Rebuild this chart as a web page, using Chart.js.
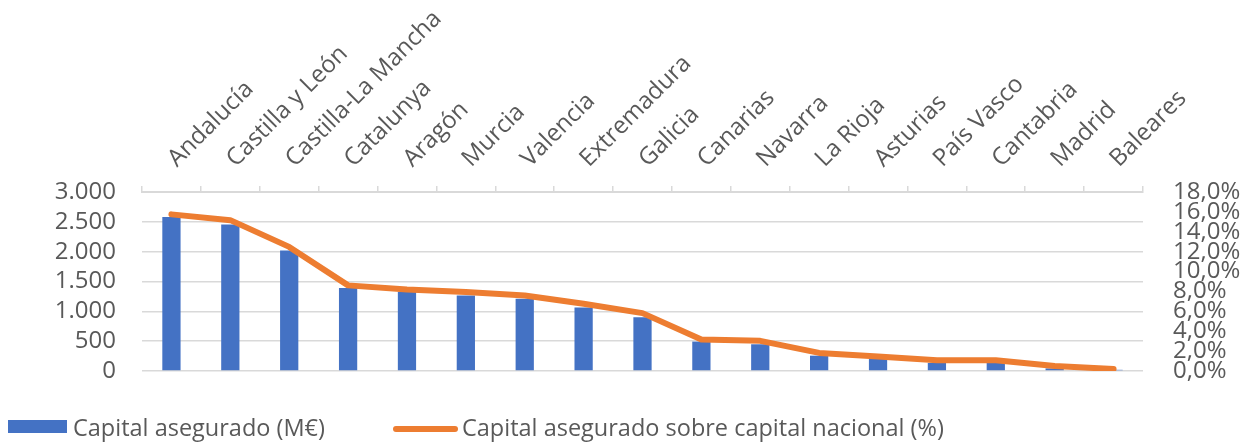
<!DOCTYPE html>
<html>
<head>
<meta charset="utf-8">
<script src="https://cdn.jsdelivr.net/npm/chart.js@4.4.0/dist/chart.umd.min.js"></script>
<style>
  body { margin: 0; background: #fff; }
  #wrap { position: relative; width: 1248px; height: 444px; overflow: hidden; }
  canvas { display: block; }
  .legend { position: absolute; top: 413px; height: 28px; line-height: 28px;
            font-family: 'Open Sans', sans-serif; font-size: 23.5px; color: #595959; white-space: nowrap; }
  .legend .box { position: absolute; left: 0; top: 7px; width: 59px; height: 13px; background: #4472C4; }
  .legend .line { position: absolute; left: 0; top: 13px; width: 65px; height: 6px; border-radius: 3px; background: #ED7D31; }
</style>
</head>
<body>
<div id="wrap">
  <canvas id="chart" width="1248" height="444"></canvas>
  <div class="legend" style="left:8px"><span class="box"></span><span style="margin-left:65px">Capital asegurado (M€)</span></div>
  <div class="legend" style="left:393px"><span class="line"></span><span style="margin-left:69px">Capital asegurado sobre capital nacional (%)</span></div>
</div>
<script>
// Regions sorted by insured capital
const regiones = ['Andalucía', 'Castilla y León', 'Castilla-La Mancha', 'Catalunya', 'Aragón', 'Murcia',
  'Valencia', 'Extremadura', 'Galicia', 'Canarias', 'Navarra', 'La Rioja', 'Asturias', 'País Vasco',
  'Cantabria', 'Madrid', 'Baleares'];

// Capital asegurado (M€)
const capitalAsegurado = [2580, 2456, 2020, 1390, 1323, 1267, 1211, 1065, 902, 493, 448, 257, 202, 135, 135, 44, 20];

// Capital asegurado sobre capital nacional (%)
const porcentajeNacional = [15.75, 15.17, 12.48, 8.61, 8.2, 7.94, 7.6, 6.76, 5.82, 3.16, 3.03, 1.82, 1.47, 1.07, 1.07, 0.5, 0.2];

const textColor = '#595959';
const gridColor = '#d9d9d9';
const font = { family: "'Open Sans', sans-serif", size: 24 };

new Chart(document.getElementById('chart').getContext('2d'), {
  type: 'bar',
  data: {
    labels: regiones,
    datasets: [
      {
        type: 'line',
        label: 'Capital asegurado sobre capital nacional (%)',
        data: porcentajeNacional,
        yAxisID: 'y1',
        borderColor: '#ED7D31',
        borderWidth: 6,
        pointRadius: 0,
        borderCapStyle: 'round',
        borderJoinStyle: 'round',
        tension: 0,
        order: 0
      },
      {
        label: 'Capital asegurado (M€)',
        data: capitalAsegurado,
        yAxisID: 'y',
        backgroundColor: '#4472C4',
        categoryPercentage: 1,
        barPercentage: 0.31,
        order: 1
      }
    ]
  },
  options: {
    responsive: false,
    animation: false,
    layout: { padding: { top: 0, bottom: 73, left: 0, right: 0 } },
    plugins: { legend: { display: false }, tooltip: { enabled: false } },
    scales: {
      x: {
        position: 'top',
        offset: true,
        grid: { offset: true, drawOnChartArea: false, drawTicks: true, tickLength: 6, color: gridColor, lineWidth: 1.5 },
        border: { display: true, color: gridColor, width: 2 },
        ticks: { minRotation: 45, maxRotation: 45, autoSkip: false, padding: 13, labelOffset: 21, color: textColor, font: font },
        afterFit: s => { s.height = 192; }
      },
      y: {
        position: 'left',
        min: 0,
        max: 3000,
        grid: { color: gridColor, lineWidth: 1.5, drawTicks: false },
        border: { display: false },
        ticks: {
          stepSize: 500,
          autoSkip: false,
          padding: 26,
          color: textColor,
          font: font,
          callback: v => v.toLocaleString('de-DE')
        },
        afterFit: s => { s.width = 142; }
      },
      y1: {
        position: 'right',
        min: 0,
        max: 18,
        grid: { display: false },
        border: { display: false },
        ticks: {
          stepSize: 2,
          autoSkip: false,
          padding: 22,
          color: textColor,
          font: font,
          callback: v => v.toFixed(1).replace('.', ',') + '%'
        },
        afterFit: s => { s.width = 105; }
      }
    }
  }
});
</script>
</body>
</html>
